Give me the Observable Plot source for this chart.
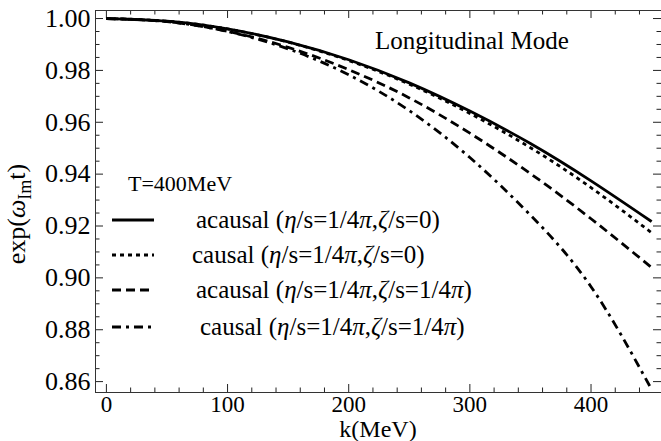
<!DOCTYPE html>
<html><head><meta charset="utf-8">
<script src="https://cdn.jsdelivr.net/npm/d3@7"></script>
<script src="https://cdn.jsdelivr.net/npm/@observablehq/plot@0.6"></script>
<style>html,body{margin:0;padding:0;background:#fff} svg{display:block}</style>
</head><body><div id="chart"></div>
<script>
// ---- data ----
const k = [0, 50, 100, 150, 200, 250, 300, 350, 400, 450];
const acausalShear = [1.0, 0.9990, 0.9960, 0.9910, 0.9841, 0.9752, 0.9643, 0.9518, 0.9374, 0.9217];
const causalShear  = [1.0, 0.9990, 0.9960, 0.9909, 0.9838, 0.9747, 0.9634, 0.9502, 0.9348, 0.9174];
const acausalBulk  = [1.0, 0.9988, 0.9951, 0.9889, 0.9803, 0.9694, 0.9558, 0.9402, 0.9228, 0.9040];
const causalBulk   = [1.0, 0.9988, 0.9950, 0.9883, 0.9783, 0.9645, 0.9464, 0.9242, 0.8966, 0.8570];
const seriesLabels = [
  ["acausal (", "η", "/s=1/4", "π", ",", "ζ", "/s=0)"],
  ["causal (", "η", "/s=1/4", "π", ",", "ζ", "/s=0)"],
  ["acausal (", "η", "/s=1/4", "π", ",", "ζ", "/s=1/4", "π", ")"],
  ["causal (", "η", "/s=1/4", "π", ",", "ζ", "/s=1/4", "π", ")"]
];
const xTicks = [0, 100, 200, 300, 400];
const yTicks = [0.86, 0.88, 0.90, 0.92, 0.94, 0.96, 0.98, 1.00];
const xMinor = d3.range(0, 460, 20).filter(v => v % 100 !== 0);
const yMinor = d3.range(0.86, 1.0001, 0.005).filter(v => Math.abs(Math.round(v*50) - v*50) > 1e-6);
const titleText = "Longitudinal Mode";
const tempText = "T=400MeV";
const xLabel = "k(MeV)";

// ---- layout ----
const W = 661, H = 441;
const mL = 95, mR = -1, mT = 10, mB = 49;
const fH = H - mT - mB;
const fW = W - mL - mR;
const FONT = "'Liberation Serif', 'Times New Roman', serif";
const dashes = [null, "4,4", "9,5", "9,5,3,5"];
const seriesVals = [acausalShear, causalShear, acausalBulk, causalBulk];
const tables = seriesVals.map(vals => k.map((kk, i) => ({k: kk, v: vals[i]})));

const majorLen = 8, minorLen = 4.5;
const tickStyle = {stroke: "#222", strokeWidth: 1};

const chart = Plot.plot({
  width: W, height: H,
  marginLeft: mL, marginRight: mR, marginTop: mT, marginBottom: mB,
  style: {fontFamily: FONT, background: "white", overflow: "visible"},
  x: {domain: [-9, 459], axis: null},
  y: {domain: [0.8558, 1.0031], axis: null},
  marks: [
    Plot.tickX(xTicks, {x: d => d, insetTop: fH - majorLen, ...tickStyle}),
    Plot.tickX(xMinor, {x: d => d, insetTop: fH - minorLen, ...tickStyle}),
    Plot.tickX(xTicks, {x: d => d, insetBottom: fH - majorLen, ...tickStyle}),
    Plot.tickX(xMinor, {x: d => d, insetBottom: fH - minorLen, ...tickStyle}),
    Plot.tickY(yTicks, {y: d => d, insetRight: fW - majorLen, ...tickStyle}),
    Plot.tickY(yMinor, {y: d => d, insetRight: fW - minorLen, ...tickStyle}),
    Plot.tickY(yTicks, {y: d => d, insetLeft: fW - majorLen - 1, ...tickStyle}),
    Plot.tickY(yMinor, {y: d => d, insetLeft: fW - minorLen - 1, ...tickStyle}),
    ...tables.map((t, i) => Plot.line(t, {
      x: "k", y: "v", curve: "natural", stroke: "black", strokeWidth: 2.8,
      strokeDasharray: dashes[i] || undefined, strokeLinecap: "butt"
    })),
    Plot.frame({stroke: "#333", strokeWidth: 1}),
    Plot.text(xTicks, {x: d => d, text: d => String(d), frameAnchor: "bottom", dy: 12,
      lineAnchor: "middle", fontSize: 23, fill: "black", fontFamily: FONT}),
    Plot.text(yTicks, {y: d => d, text: d => d.toFixed(2), frameAnchor: "left", dx: -5,
      textAnchor: "end", lineAnchor: "middle", fontSize: 26, fill: "black", fontFamily: FONT})
  ]
});
document.getElementById("chart").appendChild(chart);

// ---- annotations, axis titles and legend ----
const svg = d3.select(chart);
const g = svg.append("g").attr("font-family", FONT).attr("fill", "black")
  .attr("text-anchor", "start");

g.append("text").attr("x", 378).attr("y", 437).attr("text-anchor", "middle")
  .attr("font-size", 24).text(xLabel);

const yl = g.append("text").attr("transform", "translate(25,214) rotate(-90)")
  .attr("text-anchor", "middle").attr("font-size", 26);
yl.append("tspan").text("exp(");
yl.append("tspan").attr("font-style", "italic").text("ω");
yl.append("tspan").attr("font-size", 18).attr("dy", 6).text("Im");
yl.append("tspan").attr("dy", -6).text("t)");

g.append("text").attr("x", 375).attr("y", 49).attr("font-size", 25).text(titleText);
g.append("text").attr("x", 128).attr("y", 191).attr("font-size", 22).text(tempText);

const rowY = [220, 255, 290, 327];
const textX = [196, 192, 196, 200];
seriesLabels.forEach((parts, i) => {
  g.append("line").attr("x1", 112).attr("x2", 154).attr("y1", rowY[i]).attr("y2", rowY[i])
    .attr("stroke", "black").attr("stroke-width", 3)
    .attr("stroke-dasharray", dashes[i]);
  const t = g.append("text").attr("x", textX[i]).attr("y", rowY[i] + 8).attr("font-size", 25);
  parts.forEach(p => {
    const sp = t.append("tspan").text(p);
    if (p === "η" || p === "ζ" || p === "π") sp.attr("font-style", "italic");
  });
});
</script>
</body></html>
